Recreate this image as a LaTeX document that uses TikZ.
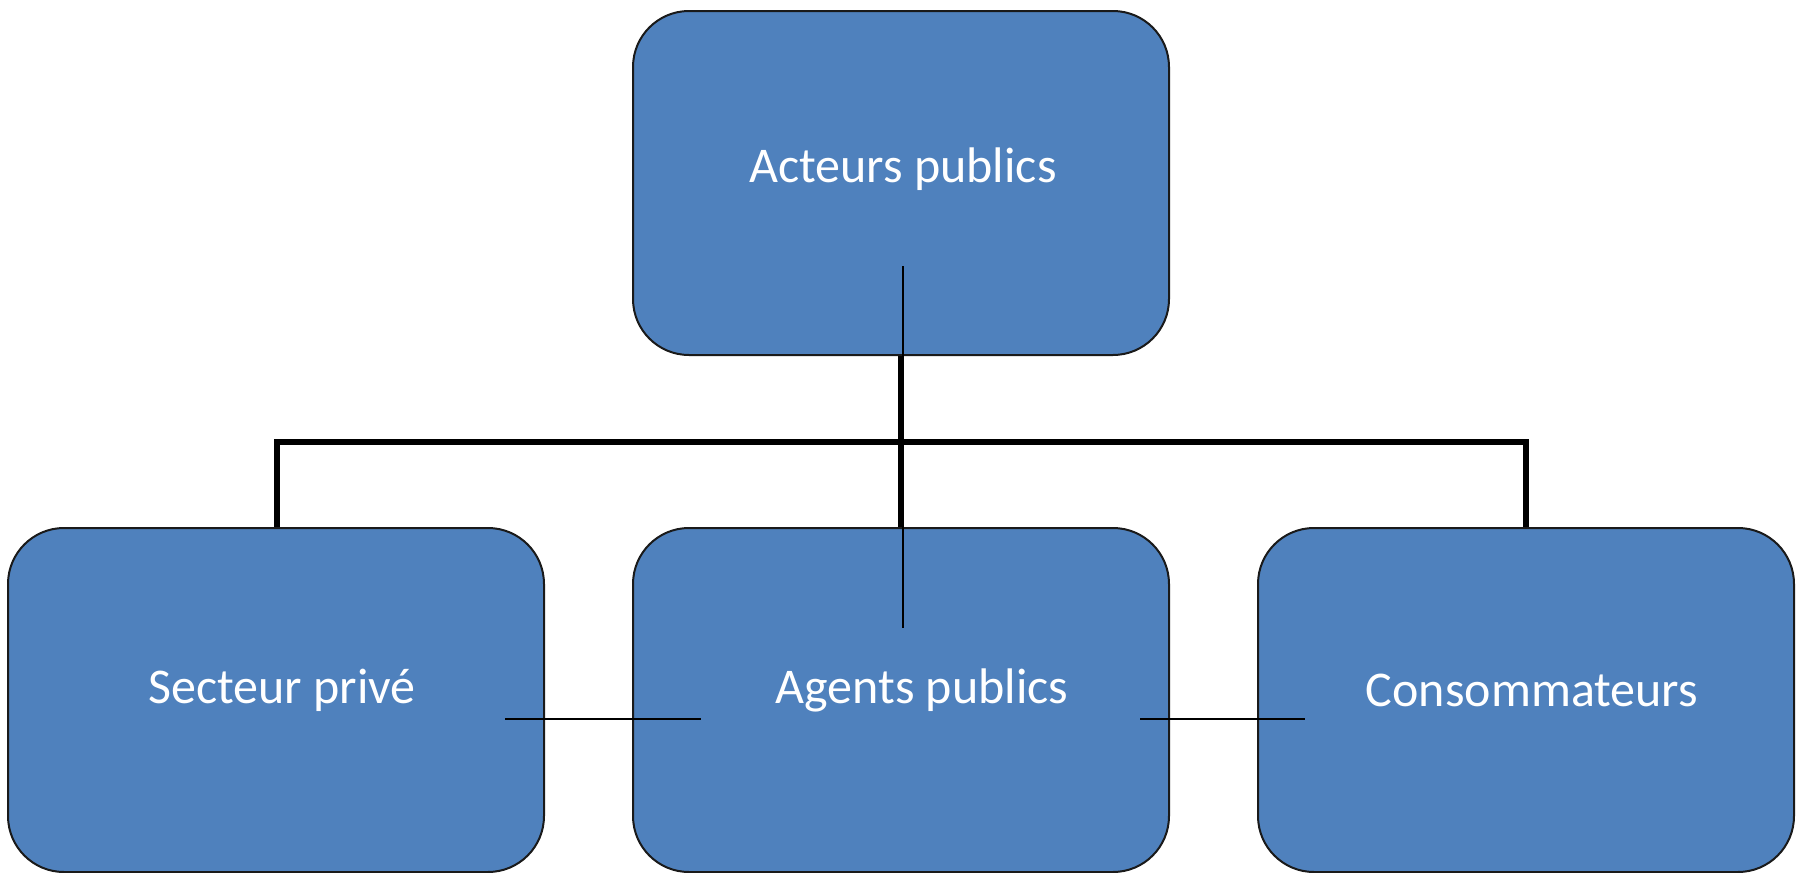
\documentclass[tikz,border=0pt]{standalone}
\usepackage{fontspec}
\setmainfont{Carlito}
\definecolor{boxblue}{HTML}{4F81BD}
\definecolor{boxedge}{HTML}{1A1A1A}
\begin{document}
\begin{tikzpicture}[x=0.5pt,y=-0.5pt,
  orgbox/.style={draw=boxedge,line width=1pt,fill=boxblue,rounded corners=28pt,
    minimum width=268pt,minimum height=172pt,inner sep=0pt},
  boxtext/.style={text=white,font=\fontsize{25}{30}\selectfont,inner sep=0pt},
  thickline/.style={line width=2.8pt,black},
  thinline/.style={line width=1pt,black}]
\useasboundingbox (0,0) rectangle (1800,873);
% thick connectors (behind boxes)
\coordinate (j0) at (901,442);
\coordinate (jl) at (277,442);
\coordinate (jr) at (1526,442);
\draw[thickline] (901,355) -- (j0);
\draw[thickline,line join=miter] (277,528) -- (jl) -- (jr) -- (1526,528);
\draw[thickline] (j0) -- (901,528);
% boxes
\node[orgbox,label={[boxtext,xshift=1pt,yshift=7pt]center:Acteurs publics}] (top) at (901,183) {};
\node[orgbox,label={[boxtext,xshift=3pt,yshift=5pt]center:Secteur privé}] (left) at (276,700) {};
\node[orgbox,label={[boxtext,xshift=10.5pt,yshift=5pt]center:Agents publics}] (mid) at (901,700) {};
\node[orgbox,label={[boxtext,xshift=3pt,yshift=5pt]center:Consommateurs}] (right) at (1526,700) {};
% thin lines
\coordinate (t1) at (903,266);
\coordinate (t2) at (903,628);
\draw[thinline] (t1) -- (t2);
\coordinate (h1) at (505,719);
\coordinate (h2) at (701,719);
\draw[thinline] (h1) -- (h2);
\coordinate (h3) at (1140,719);
\coordinate (h4) at (1305,719);
\draw[thinline] (h3) -- (h4);
\end{tikzpicture}
\end{document}
